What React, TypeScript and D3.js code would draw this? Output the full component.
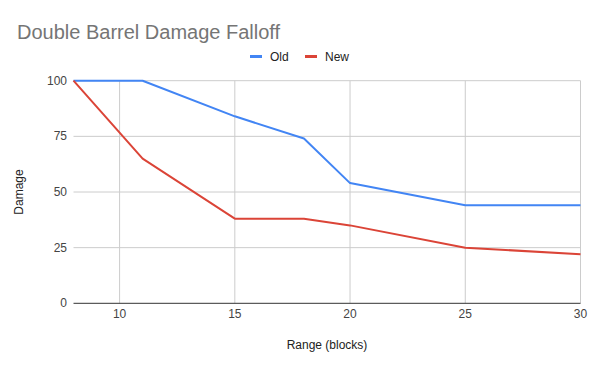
import React from 'react';
import * as d3 from 'd3';

const ranges = [8, 11, 15, 18, 20, 25, 30];
const oldDamage = [100, 100, 84, 74, 54, 44, 44];
const newDamage = [100, 65, 38, 38, 35, 25, 22];
const xTicks = [10, 15, 20, 25, 30];
const yTicks = [0, 25, 50, 75, 100];

const series = [
  { name: 'Old', color: '#4285f4', values: oldDamage },
  { name: 'New', color: '#db4437', values: newDamage },
];

const W = 598;
const H = 368;
const FONT = '"Liberation Sans", Arial, sans-serif';

export default function App() {
  const x = d3.scaleLinear().domain([8, 30]).range([73.5, 580.5]);
  const y = d3.scaleLinear().domain([0, 100]).range([303.3, 80.7]);

  const line = d3
    .line<number>()
    .x((_, i) => x(ranges[i]))
    .y((d) => y(d));

  return (
    <svg
      width={W}
      height={H}
      style={{ position: 'absolute', left: 0, top: 0, background: '#fff' }}
      fontFamily={FONT}
    >
      <rect width={W} height={H} fill="#fff" />
      <text x={17} y={39} fontSize={20} fill="#757575">
        Double Barrel Damage Falloff
      </text>

      {/* legend */}
      {series.map((s, i) => {
        const lx = 250 + i * 55;
        return (
          <g key={s.name}>
            <rect x={lx} y={55} width={12} height={3} fill={s.color} />
            <text x={lx + 20} y={60.5} fontSize={12} fill="#222">
              {s.name}
            </text>
          </g>
        );
      })}

      {/* grid */}
      {yTicks.filter((t) => t !== 0).map((t) => (
        <line key={'gy' + t} x1={x(8)} x2={x(30)} y1={y(t)} y2={y(t)} stroke="#cccccc" strokeWidth={1} />
      ))}
      {xTicks.map((t) => (
        <line key={'gx' + t} x1={x(t)} x2={x(t)} y1={y(0)} y2={y(100)} stroke="#cccccc" strokeWidth={1} />
      ))}

      {/* y labels */}
      {yTicks.map((t) => (
        <text key={'ly' + t} x={67} y={y(t) + 4} fontSize={12} textAnchor="end" fill="#444">
          {t}
        </text>
      ))}
      {/* x labels */}
      {xTicks.map((t) => (
        <text key={'lx' + t} x={x(t)} y={318} fontSize={12} textAnchor="middle" fill="#444">
          {t}
        </text>
      ))}

      {/* lines */}
      {series.map((s) => (
        <path
          key={s.name}
          d={line(s.values) ?? ''}
          fill="none"
          stroke={s.color}
          strokeWidth={2}
          strokeLinejoin="round"
        />
      ))}

      {/* baseline */}
      <line x1={x(8)} x2={x(30)} y1={y(0)} y2={y(0)} stroke="#333" strokeWidth={1} />

      {/* axis titles */}
      <text x={327} y={349} fontSize={12} textAnchor="middle" fill="#222">
        Range (blocks)
      </text>
      <text
        transform={`translate(23,${(y(0) + y(100)) / 2}) rotate(-90)`}
        fontSize={12}
        textAnchor="middle"
        fill="#222"
      >
        Damage
      </text>
    </svg>
  );
}
